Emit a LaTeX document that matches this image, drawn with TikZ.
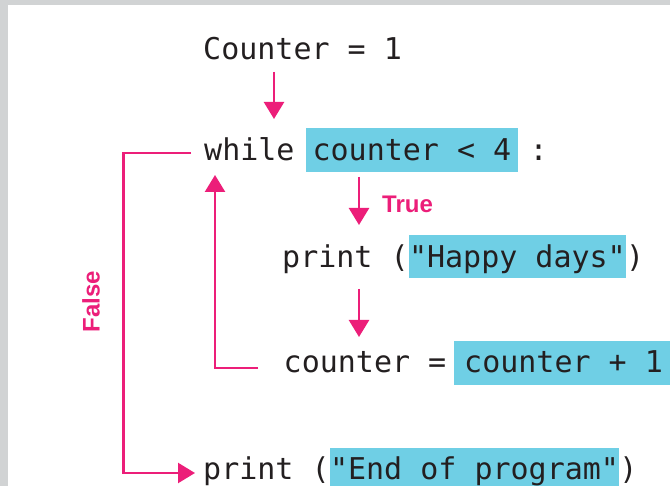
\documentclass[tikz,border=0pt]{standalone}
\usepackage{fontspec}
\setmonofont{DejaVu Sans Mono}
\newfontfamily\labfont{Liberation Sans}
\usetikzlibrary{arrows.meta}
\definecolor{pinkc}{RGB}{236,30,121}
\definecolor{cyanc}{RGB}{111,207,229}
\definecolor{inkc}{RGB}{35,31,32}
\definecolor{greyc}{RGB}{209,211,212}
\begin{document}
\begin{tikzpicture}[x=1pt,y=-1pt,
  code/.style={inner sep=0pt, anchor=base west, font=\ttfamily\fontsize{30}{36}\selectfont, text=inkc},
  hl/.style={code, fill=cyanc},
  arr/.style={draw=pinkc, line width=2.4pt, -{Triangle[width=20pt,length=17pt]}},
  lbl/.style={font=\labfont\bfseries\fontsize{24}{28}\selectfont, text=pinkc, inner sep=0pt}]
\useasboundingbox (0,0) rectangle (670,486);
\fill[white] (0,0) rectangle (670,486);
\fill[greyc] (0,0) rectangle (670,5);
\fill[greyc] (0,0) rectangle (8,486);

% line 1
\node[code] (c1) at (203,60) {Counter = 1};
% line 2
\node[code] (w) at (204,161) {while};
\node[hl, inner xsep=7pt, text height=33pt, text depth=11pt] (cond) at (305.4,161) {counter < 4};
\node[code] (colon) at (529.5,161) {:};
% line 3
\node[code] (p1) at (282,268) {print (};
\node[hl, text height=33pt, text depth=10pt] (s1) at (p1.base east) {"Happy days"};
\node[code] (rp1) at (s1.base east) {)};
% line 4
\node[code] (c2) at (283.5,373) {counter =};
\node[hl, inner xsep=10pt, text height=31.5pt, text depth=12.5pt] (inc) at (454,373) {counter + 1};
% line 5
\node[code] (p2) at (203,479) {print (};
\node[hl, text height=31pt, text depth=11pt] (s2) at (p2.base east) {"End of program"};
\node[code] (rp2) at (s2.base east) {)};

% labels
\node[lbl, anchor=base west] (tl) at (382,213) {True};
\node[lbl, rotate=90] (fl) at (91,301.5) {False};

% connectors
\coordinate (a1s) at (274,72);
\coordinate (a1e) at (274,119);
\draw[arr] (a1s) -- (a1e);

\coordinate (t0) at (359,177);
\coordinate (t1) at (359,225);
\draw[arr] (t0) -- (t1);

\coordinate (h0) at (359,289);
\coordinate (h1) at (359,337);
\draw[arr] (h0) -- (h1);

\coordinate (lp0) at (258,368);
\coordinate (lp1) at (215,368);
\coordinate (lp2) at (215,175);
\draw[arr] (lp0) -- (lp1) -- (lp2);

\coordinate (f0) at (191,153);
\coordinate (f1) at (123.5,153);
\coordinate (f2) at (123.5,473);
\coordinate (f3) at (195,473);
\draw[arr] (f0) -- (f1) -- (f2) -- (f3);
\end{tikzpicture}
\end{document}
